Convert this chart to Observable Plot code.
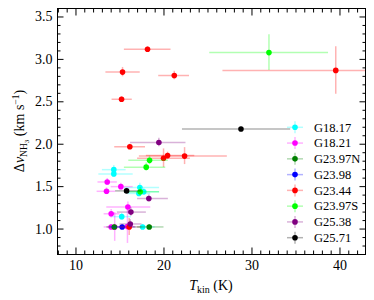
<!DOCTYPE html>
<html><head><meta charset="utf-8">
<script src="https://cdn.jsdelivr.net/npm/d3@7"></script>
<script src="https://cdn.jsdelivr.net/npm/@observablehq/plot@0.6"></script>
<style>body{margin:0;background:#fff}#chart{width:374px;height:300px}</style>
</head><body><div id="chart"></div>
<script>
// ---- data ----
const sources = ["G18.17","G18.21","G23.97N","G23.98","G23.44","G23.97S","G25.38","G25.71"];
const colors  = ["#00ffff","#ff00ff","#008000","#0000ff","#ff0000","#00ff00","#800080","#000000"];

const pointSource = [
  "G18.17","G18.17","G18.17","G18.17","G18.17","G18.17","G18.17",
  "G18.21","G18.21","G18.21","G18.21","G18.21","G18.21","G18.21","G18.21",
  "G23.97N","G23.97N",
  "G23.98",
  "G23.44","G23.44","G23.44","G23.44","G23.44","G23.44","G23.44","G23.44","G23.44","G23.44",
  "G23.97S","G23.97S","G23.97S","G23.97S",
  "G25.38","G25.38","G25.38","G25.38",
  "G25.71","G25.71"
];
const tkin   = [14.3,14.3,17.26,17.7,17.15,15.2,17.57, 13.55,15.1,13.47,15.9,14.0,14.0,14.4,15.85, 14.35,18.32, 15.25, 18.13,15.29,21.17,15.18,39.52,16.12,19.95,20.41,22.34,16.05, 31.93,18.36,17.98,17.3, 19.42,18.28,16.24,16.17, 28.75,15.75];
const tkinLo = [13.0,12.6,15.5,16.0,15.9,14.2,16.2, 12.5,14.0,12.4,13.5,13.2,13.2,13.6,15.0, 13.5,17.0, 13.8, 15.5,13.4,19.4,14.1,26.7,14.4,17.0,18.0,17.2,15.0, 25.2,16.0,15.5,15.5, 16.2,17.0,14.7,15.0, 22.1,14.5];
const tkinHi = [15.7,16.5,19.5,19.5,18.5,16.3,19.0, 14.7,16.5,14.5,18.5,15.0,15.0,15.2,16.7, 15.3,20.0, 16.8, 20.8,17.3,22.9,16.4,44.0,17.9,23.0,23.5,27.2,17.5, 38.7,20.5,20.2,19.5, 22.5,20.5,18.0,17.5, 34.4,17.5];
const dv     = [1.70,1.65,1.49,1.44,1.42,1.146,1.025, 1.555,1.50,1.445,1.26,1.18,1.025,1.025,1.03, 1.025,1.025, 1.025, 3.12,2.85,2.81,2.53,2.87,1.97,1.835,1.866,1.86,1.025, 3.08,1.81,1.73,1.44, 2.02,1.36,1.20,1.06, 2.18,1.45];
const dvErr  = [0.05,0.04,0.05,0.04,0.04,0.04,0.03, 0.04,0.04,0.04,0.06,0.05,0.03,0.17,0.2, 0.03,0.03, 0.03, 0.03,0.055,0.05,0.03,0.28,0.03,0.11,0.04,0.10,0.1, 0.21,0.05,0.05,0.05, 0.05,0.04,0.05,0.05, 0.02,0.03];

const xTicks = [10,20,30,40];
const yTicks = [1.0,1.5,2.0,2.5,3.0,3.5];
const xMinor = [8,9,11,12,13,14,15,16,17,18,19,21,22,23,24,25,26,27,28,29,31,32,33,34,35,36,37,38,39,41,42];
const yMinor = [0.7,0.8,0.9,1.1,1.2,1.3,1.4,1.6,1.7,1.8,1.9,2.1,2.2,2.3,2.4,2.6,2.7,2.8,2.9,3.1,3.2,3.3,3.4,3.6];

// ---- build ----
const rows = tkin.map((t, i) => ({
  src: pointSource[i], t, lo: tkinLo[i], hi: tkinHi[i],
  v: dv[i], vlo: dv[i] - dvErr[i], vhi: dv[i] + dvErr[i]
}));

const FONT = "'Liberation Serif', 'Times New Roman', serif";
const seriesMarks = sources.flatMap(s => {
  const d = rows.filter(r => r.src === s);
  return [
    Plot.ruleY(d, {y: "v", x1: "lo", x2: "hi", stroke: "src", strokeOpacity: 0.3, strokeWidth: 1.5, clip: true}),
    Plot.ruleX(d, {x: "t", y1: "vlo", y2: "vhi", stroke: "src", strokeOpacity: 0.3, strokeWidth: 1.5, clip: true}),
    Plot.dot(d, {x: "t", y: "v", fill: "src", r: 2.8, clip: true})
  ];
});
const blank = () => "";

const chart = Plot.plot({
  width: 374, height: 300,
  marginLeft: 57, marginRight: 9, marginTop: 8, marginBottom: 46,
  style: {fontFamily: FONT, fontSize: "14px", color: "#000", background: "#fff"},
  x: {domain: [7.9, 42.9], label: null},
  y: {domain: [0.7, 3.6], label: null},
  color: {domain: sources, range: colors},
  marks: [
    ...seriesMarks,
    Plot.frame({stroke: "#000", strokeWidth: 1}),
    // inward ticks on all four sides
    Plot.axisX({anchor: "bottom", ticks: xMinor, tickSize: -3.5, tickFormat: blank}),
    Plot.axisX({anchor: "bottom", ticks: xTicks, tickSize: -6.5, tickFormat: blank}),
    Plot.axisX({anchor: "top", ticks: xMinor, tickSize: -3.5, tickFormat: blank}),
    Plot.axisX({anchor: "top", ticks: xTicks, tickSize: -6.5, tickFormat: blank}),
    Plot.axisY({anchor: "left", ticks: yMinor, tickSize: -3.5, tickFormat: blank}),
    Plot.axisY({anchor: "left", ticks: yTicks, tickSize: -6.5, tickFormat: blank}),
    Plot.axisY({anchor: "right", ticks: yMinor, tickSize: -3.5, tickFormat: blank}),
    Plot.axisY({anchor: "right", ticks: yTicks, tickSize: -6.5, tickFormat: blank}),
    // tick labels
    Plot.axisX({anchor: "bottom", ticks: xTicks, tickSize: 0, tickPadding: 6, fontVariant: "normal", tickFormat: d => String(d)}),
    Plot.axisY({anchor: "left", ticks: yTicks, tickSize: 0, tickPadding: 5, fontVariant: "normal", tickFormat: d => d.toFixed(1)})
  ]
});
document.getElementById("chart").appendChild(chart);

// ---- axis titles and legend (rich text) ----
const svg = d3.select(chart);
const xt = svg.append("text")
  .attr("x", 211).attr("y", 290).attr("text-anchor", "middle")
  .attr("font-size", 14).attr("fill", "#000");
xt.append("tspan").attr("font-style", "italic").text("T");
xt.append("tspan").attr("font-size", 10).attr("dy", 3).text("kin");
xt.append("tspan").attr("dy", -3).text(" (K)");

const yt = svg.append("text")
  .attr("transform", "translate(24,131) rotate(-90)").attr("text-anchor", "middle")
  .attr("font-size", 14).attr("fill", "#000");
yt.append("tspan").text("Δ");
yt.append("tspan").attr("font-style", "italic").text("ν");
yt.append("tspan").attr("font-size", 9.5).attr("dy", 3).text("NH");
yt.append("tspan").attr("font-size", 7).attr("dy", 2).text("3");
yt.append("tspan").attr("dy", -5).text(" (km s");
yt.append("tspan").attr("font-size", 9.5).attr("dy", -5).text("−1");
yt.append("tspan").attr("dy", 5).text(")");

const lg = svg.append("g").attr("font-size", 12.5).attr("text-anchor", "start");
sources.forEach((s, i) => {
  const y = 127.3 + i * 15.77, x = 295;
  const g = lg.append("g");
  g.append("line").attr("x1", x - 8).attr("x2", x + 8).attr("y1", y).attr("y2", y)
    .attr("stroke", colors[i]).attr("stroke-opacity", 0.3).attr("stroke-width", 1.5);
  g.append("line").attr("x1", x).attr("x2", x).attr("y1", y - 6).attr("y2", y + 6)
    .attr("stroke", colors[i]).attr("stroke-opacity", 0.3).attr("stroke-width", 1.5);
  g.append("circle").attr("cx", x).attr("cy", y).attr("r", 2.8).attr("fill", colors[i]);
  g.append("text").attr("x", 314).attr("y", y + 4.3).attr("fill", "#000").attr("text-anchor", "start").text(s);
});
// force the serif face on every text element
svg.selectAll("text").style("font-family", FONT);
</script>
</body></html>
